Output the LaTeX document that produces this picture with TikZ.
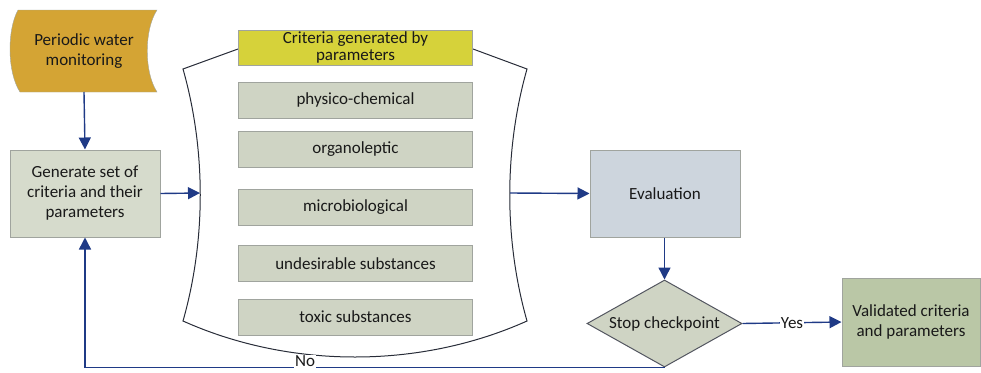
\documentclass[tikz,border=0pt]{standalone}
\usepackage{fontspec}
\setmainfont{Carlito}
\usetikzlibrary{shapes.geometric,arrows.meta}
\definecolor{monfill}{RGB}{212,164,52}
\definecolor{genfill}{RGB}{214,219,204}
\definecolor{critfill}{RGB}{207,212,196}
\definecolor{headfill}{RGB}{214,210,58}
\definecolor{evalfill}{RGB}{205,213,221}
\definecolor{valfill}{RGB}{186,199,166}
\definecolor{boxline}{RGB}{160,164,158}
\definecolor{arrowblue}{RGB}{31,58,134}
\definecolor{frameline}{RGB}{40,44,56}

\begin{document}
\begin{tikzpicture}[x=1pt,y=-1pt,
  every node/.style={font=\fontsize{17}{20}\selectfont,text=black!90,align=center},
  box/.style={draw=boxline,line width=1pt,inner sep=2pt,minimum width=150pt,minimum height=87pt},
  critbox/.style={draw=boxline,line width=1pt,fill=critfill,inner sep=1pt,minimum width=234pt,minimum height=36pt},
  arr/.style={arrowblue,line width=1.4pt,-{Triangle[length=12pt,width=12pt]}},
  lbl/.style={fill=white,inner sep=1pt}]
\useasboundingbox (0,0) rectangle (981,372);
\draw[boxline,fill=monfill] (18,10) -- (157,10) .. controls (144,30) and (144,72) .. (157,92) -- (20,92) .. controls (7,72) and (7,30) .. cycle;
\node (mon) at (84,51) {Periodic water\\monitoring};
\node[box,fill=genfill] (gen) at (85,193.5) {Generate set of\\criteria and their\\parameters};
\draw[frameline,line width=1pt] (238,49) -- (183,69) .. controls (206,150) and (206,240) .. (183,321)
  .. controls (290,369) and (420,369) .. (527,321) .. controls (504,240) and (504,150) .. (527,69) -- (473,49);
\coordinate (cin) at (200,193);
\coordinate (cout) at (510,193);
\node[critbox,fill=headfill,minimum height=35pt,font=\fontsize{17}{17}\selectfont] (head) at (355.5,47.5) {Criteria generated by\\parameters};
\node[critbox] (phys) at (355.5,100) {physico-chemical};
\node[critbox] (org) at (355.5,149) {organoleptic};
\node[critbox] (micro) at (355.5,207) {microbiological};
\node[critbox] (undes) at (355.5,263.5) {undesirable substances};
\node[critbox] (toxic) at (355.5,317) {toxic substances};
\node[box,fill=evalfill] (eval) at (665,193.5) {Evaluation};
\node[diamond,aspect=1.78,draw=frameline!80,line width=1pt,fill=critfill,minimum width=155pt,minimum height=87pt,inner sep=0pt] (chk) at (664.5,323.5) {Stop checkpoint};
\node[box,fill=valfill,minimum width=138pt,minimum height=88pt] (val) at (911,322) {Validated criteria\\and parameters};
\draw[arr] (mon.south |- 0,92) -- (gen.north);
\draw[arr] (gen.east) -- (cin);
\draw[arr] (cout) -- (eval.west);
\draw[arr] (eval.south -| chk.north) -- (chk.north);
\draw[arr] (chk.east) -- node[lbl] {Yes} (val.west);
\draw[arr] (chk.south) -| node[lbl,pos=0.31,yshift=6pt] {No} (gen.south);
\end{tikzpicture}
\end{document}
